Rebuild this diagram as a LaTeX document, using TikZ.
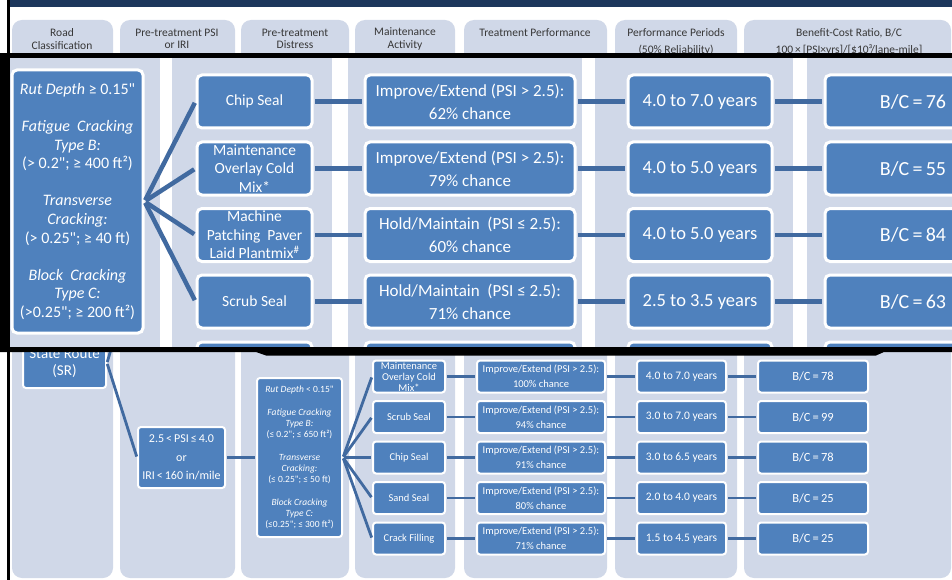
\documentclass[tikz,border=0pt]{standalone}
\usepackage{fontspec}
\setmainfont{Carlito}[Ligatures=TeXOff]
\definecolor{navy}{RGB}{29,55,92}
\definecolor{colbg}{RGB}{208,216,232}
\definecolor{boxblue}{RGB}{79,129,189}
\definecolor{linkblue}{RGB}{65,106,160}
\definecolor{headtext}{RGB}{55,55,55}
\tikzset{
  col/.style={fill=colbg, rounded corners=10pt},
  headtxt/.style={text=headtext, align=center, inner sep=0pt, font=\fontsize{11.5}{12.5}\selectfont},
  bx/.style={fill=boxblue, draw=white, text=white, align=center, inner sep=0pt},
  lbox/.style={bx, line width=2pt, rounded corners=3pt},
  ibox/.style={bx, line width=3pt, rounded corners=5pt},
  lconn/.style={draw=linkblue, line width=2.8pt, shorten <=1pt, shorten >=1pt},
  iconn/.style={draw=linkblue, line width=4.5pt, shorten <=1.5pt, shorten >=1.5pt},
}
\begin{document}
\begin{tikzpicture}[x=1pt, y=-1pt]
\useasboundingbox (0,0) rectangle (952,580);
\fill[white] (0,0) rectangle (952,580);
% title bar
\fill[navy] (10,0) rectangle (952,7);
% column panels
\fill[col] (12,20) rectangle (113,578);
\fill[col] (120,20) rectangle (235,578);
\fill[col] (241,20) rectangle (349,578);
\fill[col] (355,20) rectangle (455,578);
\fill[col] (464,20) rectangle (607,578);
\fill[col] (615,20) rectangle (737,578);
\fill[col] (744,20) rectangle (951,578);
% column headings
\node[headtxt] (h1) at (62,39) {Road\\Classification};
\node[headtxt] (h2) at (177,39) {Pre-treatment PSI\\or IRI};
\node[headtxt] (h3) at (295,39) {Pre-treatment\\Distress};
\node[headtxt] (h4) at (405,39) {Maintenance\\Activity};
\node[headtxt] (h5) at (535,33) {Treatment Performance};
\node[headtxt, font=\fontsize{11.5}{17}\selectfont] (h6) at (676,42) {Performance Periods\\(50\% Reliability)};
\node[headtxt, font=\fontsize{11.5}{17}\selectfont] (h7) at (849,42) {Benefit-Cost Ratio, B/C\\100\,×\,[PSI×yrs]/[\$10³/lane-mile]};

% ---- lower chart ----
\node[lbox, minimum width=83pt, minimum height=50pt, font=\fontsize{15}{17}\selectfont] (sr) at (64.5,363) {State Route\\(SR)};
\node[lbox, minimum width=87pt, minimum height=61pt, font=\fontsize{12}{18.5}\selectfont] (psi) at (181.5,457.5) {2.5\,<\,PSI\,≤\,4.0\\or\\IRI\,<\,160 in/mile};
\node[lbox, minimum width=85pt, minimum height=159pt, font=\fontsize{9.5}{11.25}\selectfont] (dist) at (299.5,457.5)
  {\textit{Rut Depth} < 0.15"\\[11.25pt]
   \textit{Fatigue Cracking}\\\textit{Type B:}\\(≤ 0.2"; ≤ 650 ft²)\\[11.25pt]
   \textit{Transverse}\\\textit{Cracking:}\\(≤ 0.25"; ≤ 50 ft)\\[11.25pt]
   \textit{Block Cracking}\\\textit{Type C:}\\(≤0.25"; ≤ 300 ft²)};
\coordinate (srup) at (140,250);

\tikzset{lact/.style={lbox, minimum width=72pt, minimum height=32pt, font=\fontsize{10.5}{11}\selectfont},
         lperf/.style={lbox, minimum width=128pt, minimum height=32pt, font=\fontsize{10.5}{15}\selectfont},
         lper/.style={lbox, minimum width=89pt, minimum height=32pt, font=\fontsize{11.5}{13}\selectfont},
         lbc/.style={lbox, minimum width=110pt, minimum height=32pt, font=\fontsize{12.5}{14}\selectfont}}
\node[lact] (m1) at (409,376.5) {Maintenance\\Overlay Cold\\Mix*};
\node[lact] (m2) at (409,417) {Scrub Seal};
\node[lact] (m3) at (409,457.5) {Chip Seal};
\node[lact] (m4) at (409,498) {Sand Seal};
\node[lact] (m5) at (409,538.5) {Crack Filling};
\node[lperf] (t1) at (541,376.5) {Improve/Extend (PSI > 2.5):\\100\% chance};
\node[lperf] (t2) at (541,417) {Improve/Extend (PSI > 2.5):\\94\% chance};
\node[lperf] (t3) at (541,457.5) {Improve/Extend (PSI > 2.5):\\91\% chance};
\node[lperf] (t4) at (541,498) {Improve/Extend (PSI > 2.5):\\80\% chance};
\node[lperf] (t5) at (541,538.5) {Improve/Extend (PSI > 2.5):\\71\% chance};
\node[lper] (p1) at (681.5,376.5) {4.0 to 7.0 years};
\node[lper] (p2) at (681.5,417) {3.0 to 7.0 years};
\node[lper] (p3) at (681.5,457.5) {3.0 to 6.5 years};
\node[lper] (p4) at (681.5,498) {2.0 to 4.0 years};
\node[lper] (p5) at (681.5,538.5) {1.5 to 4.5 years};
\node[lbc] (b1) at (813,376.5) {B/C\,=\,78};
\node[lbc] (b2) at (813,417) {B/C\,=\,99};
\node[lbc] (b3) at (813,457.5) {B/C\,=\,78};
\node[lbc] (b4) at (813,498) {B/C\,=\,25};
\node[lbc] (b5) at (813,538.5) {B/C\,=\,25};

\draw[lconn] (sr.east) -- (srup);
\draw[lconn] (sr.east) -- (psi.west);
\draw[lconn] (psi.east) -- (dist.west);
\foreach \i in {1,...,5}{
  \draw[lconn] (dist.east) -- (m\i.west);
  \draw[lconn] (m\i.east) -- (t\i.west);
  \draw[lconn] (t\i.east) -- (p\i.west);
  \draw[lconn] (p\i.east) -- (b\i.west);
}

% ---- enlarged detail panel ----
\begin{scope}
\clip (8,58) rectangle (952,347);
\fill[white] (8,58) rectangle (952,347);
\fill[colbg] (8,40) rectangle (160,400);
\fill[colbg] (172,40) rectangle (332,400);
\fill[colbg] (348,40) rectangle (582,400);
\fill[colbg] (595,40) rectangle (793,400);
\fill[colbg] (807,40) rectangle (980,400);

\node[ibox, minimum width=131pt, minimum height=263pt, font=\fontsize{16}{18.6}\selectfont] (bigdist) at (77.5,201.5)
  {\textit{Rut Depth} ≥ 0.15"\\[18.6pt]
   \textit{Fatigue~ Cracking}\\\textit{Type B:}\\(> 0.2"; ≥ 400 ft²)\\[18.6pt]
   \textit{Transverse}\\\textit{Cracking:}\\(> 0.25"; ≥ 40 ft)\\[18.6pt]
   \textit{Block~ Cracking}\\\textit{Type C:}\\(>0.25"; ≥ 200 ft²)};

\tikzset{iact/.style={ibox, minimum width=115pt, minimum height=53pt, font=\fontsize{15.5}{18.5}\selectfont},
         iperf/.style={ibox, minimum width=210pt, minimum height=53pt, font=\fontsize{17}{23}\selectfont},
         iper/.style={ibox, minimum width=144pt, minimum height=53pt, font=\fontsize{18.5}{20}\selectfont},
         ibc/.style={ibox, minimum width=176pt, minimum height=53pt, font=\fontsize{20}{22}\selectfont}}
\node[iact] (cs1) at (254.5,101.5) {Chip Seal};
\node[iact] (cs2) at (254.5,168.5) {Maintenance\\Overlay Cold\\Mix*};
\node[iact] (cs3) at (254.5,235) {Machine\\Patching~ Paver\\Laid Plantmix\textsuperscript{\#}};
\node[iact] (cs4) at (254.5,301.5) {Scrub Seal};
\node[iact] (cs5) at (254.5,368.5) {};
\node[iperf] (tp1) at (470,101.5) {Improve/Extend (PSI > 2.5):\\62\% chance};
\node[iperf] (tp2) at (470,168.5) {Improve/Extend (PSI > 2.5):\\79\% chance};
\node[iperf] (tp3) at (470,235) {Hold/Maintain~ (PSI ≤ 2.5):\\60\% chance};
\node[iperf] (tp4) at (470,301.5) {Hold/Maintain~ (PSI ≤ 2.5):\\71\% chance};
\node[iperf] (tp5) at (470,368.5) {};
\node[iper] (pp1) at (700,101.5) {4.0 to 7.0 years};
\node[iper] (pp2) at (700,168.5) {4.0 to 5.0 years};
\node[iper] (pp3) at (700,235) {4.0 to 5.0 years};
\node[iper] (pp4) at (700,301.5) {2.5 to 3.5 years};
\node[iper] (pp5) at (700,368.5) {};
\node[ibc] (bc1) at (913,101.5) {B/C\,=\,76};
\node[ibc] (bc2) at (913,168.5) {B/C\,=\,55};
\node[ibc] (bc3) at (913,235) {B/C\,=\,84};
\node[ibc] (bc4) at (913,301.5) {B/C\,=\,63};
\node[ibc] (bc5) at (913,368.5) {};

\foreach \i in {1,...,4}{
  \draw[iconn] (bigdist.east) -- (cs\i.west);
  \draw[iconn] (cs\i.east) -- (tp\i.west);
  \draw[iconn] (tp\i.east) -- (pp\i.west);
  \draw[iconn] (pp\i.east) -- (bc\i.west);
}
\end{scope}

% panel frame
\fill[black] (0,53) rectangle (952,58);
\fill[black] (0,53) rectangle (8,352);
\fill[black] (0,347) -- (952,347) -- (952,352) -- (884,352) -- (876,355.5)
  -- (266,355.5) -- (256,352) -- (0,352) -- cycle;
% page edge rule
\fill[black] (7,0) rectangle (9.5,580);
\end{tikzpicture}
\end{document}
